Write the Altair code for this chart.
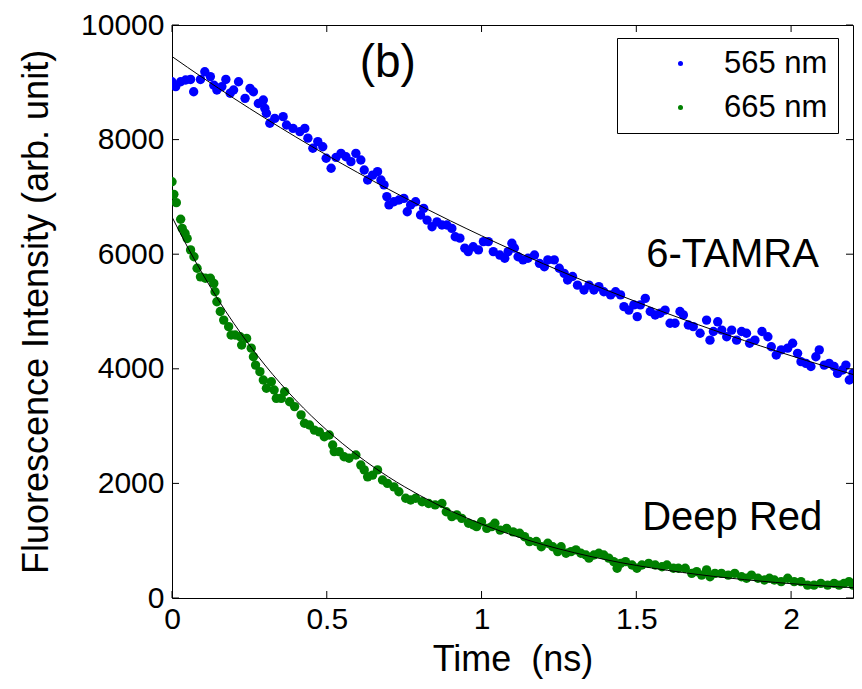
import altair as alt
import pandas as pd

# ---- data ----
blue_t = [0.000, 0.012, 0.028, 0.044, 0.060, 0.070, 0.092, 0.106, 0.124, 0.135,
          0.145, 0.161, 0.174, 0.188, 0.199, 0.215, 0.236, 0.252, 0.263, 0.279,
          0.295, 0.300, 0.305, 0.316, 0.332, 0.359, 0.370, 0.391, 0.413, 0.429,
          0.439, 0.455, 0.471, 0.487, 0.498, 0.514, 0.530, 0.546, 0.562, 0.578,
          0.594, 0.610, 0.621, 0.632, 0.648, 0.664, 0.675, 0.685, 0.694, 0.701,
          0.717, 0.733, 0.749, 0.760, 0.771, 0.787, 0.803, 0.813, 0.824, 0.840,
          0.856, 0.872, 0.888, 0.904, 0.915, 0.930, 0.946, 0.957, 0.973, 0.990,
          1.006, 1.022, 1.038, 1.059, 1.075, 1.086, 1.098, 1.106, 1.118, 1.134,
          1.150, 1.171, 1.187, 1.203, 1.214, 1.235, 1.251, 1.267, 1.278, 1.294,
          1.310, 1.331, 1.347, 1.363, 1.379, 1.395, 1.417, 1.433, 1.449, 1.460,
          1.476, 1.492, 1.503, 1.513, 1.529, 1.545, 1.561, 1.577, 1.593, 1.609,
          1.625, 1.641, 1.652, 1.668, 1.684, 1.706, 1.727, 1.738, 1.749, 1.763,
          1.776, 1.792, 1.808, 1.824, 1.840, 1.856, 1.866, 1.883, 1.906, 1.925,
          1.936, 1.952, 1.968, 1.989, 2.005, 2.021, 2.032, 2.048, 2.064, 2.080,
          2.091, 2.107, 2.123, 2.139, 2.150, 2.166, 2.177, 2.188, 2.200]
blue_v = [9010, 8925, 9010, 9040, 9050, 8835, 9050, 9185, 9100, 8950,
          8865, 8925, 9050, 8810, 8865, 9010, 8720, 8895, 8835, 8630,
          8690, 8545, 8460, 8285, 8370, 8400, 8255, 8195, 8140, 8195,
          8025, 7850, 7965, 7875, 7675, 7500, 7690, 7760, 7700, 7615,
          7760, 7645, 7470, 7295, 7380, 7440, 7295, 7210, 7005, 6860,
          6915, 6945, 6975, 6740, 6860, 6915, 6685, 6800, 6595, 6480,
          6565, 6510, 6510, 6450, 6305, 6280, 6105, 6045, 6130, 6075,
          6220, 6220, 6045, 5985, 5930, 6045, 6190, 6105, 5955, 5900,
          5930, 5985, 5840, 5780, 5900, 5900, 5755, 5665, 5550, 5610,
          5460, 5375, 5460, 5375, 5435, 5345, 5290, 5345, 5290, 5085,
          5025, 5115, 4910, 5115, 5230, 5000, 4940, 4970, 5025, 4795,
          4795, 5000, 4940, 4765, 4735, 4620, 4850, 4500, 4650, 4820,
          4675, 4560, 4675, 4500, 4650, 4620, 4445, 4500, 4650, 4560,
          4385, 4240, 4330, 4360, 4445, 4270, 4125, 4095, 4040, 4210,
          4330, 4065, 4095, 4040, 3920, 3980, 4065, 3805, 3920]

green_t = [0.000, 0.006, 0.014, 0.028, 0.033, 0.042, 0.049, 0.060, 0.071, 0.081,
           0.092, 0.108, 0.124, 0.135, 0.139, 0.145, 0.156, 0.167, 0.183, 0.191,
           0.204, 0.220, 0.225, 0.241, 0.256, 0.263, 0.270, 0.284, 0.295, 0.305,
           0.321, 0.330, 0.337, 0.353, 0.364, 0.380, 0.396, 0.417, 0.428, 0.444,
           0.460, 0.476, 0.492, 0.508, 0.519, 0.524, 0.540, 0.556, 0.572, 0.594,
           0.610, 0.621, 0.632, 0.648, 0.664, 0.680, 0.696, 0.717, 0.733, 0.755,
           0.771, 0.787, 0.808, 0.829, 0.850, 0.872, 0.886, 0.904, 0.920, 0.936,
           0.958, 0.974, 0.984, 1.000, 1.017, 1.033, 1.043, 1.060, 1.081, 1.102,
           1.123, 1.139, 1.155, 1.177, 1.193, 1.214, 1.230, 1.246, 1.257, 1.273,
           1.289, 1.305, 1.321, 1.337, 1.347, 1.363, 1.379, 1.395, 1.411, 1.427,
           1.438, 1.449, 1.465, 1.486, 1.502, 1.518, 1.540, 1.561, 1.583, 1.599,
           1.620, 1.636, 1.658, 1.679, 1.695, 1.711, 1.727, 1.738, 1.754, 1.775,
           1.797, 1.818, 1.840, 1.856, 1.872, 1.893, 1.914, 1.930, 1.946, 1.968,
           1.989, 2.010, 2.032, 2.053, 2.074, 2.096, 2.118, 2.139, 2.155, 2.171,
           2.187, 2.200]
green_v = [7265, 7045, 6900, 6610, 6450, 6365, 6275, 6075, 5955, 5755,
           5605, 5580, 5580, 5490, 5345, 5170, 5000, 4850, 4735, 4590,
           4590, 4560, 4415, 4530, 4360, 4210, 4065, 3950, 3805, 3660,
           3775, 3630, 3485, 3485, 3600, 3425, 3340, 3195, 3050, 3020,
           2930, 2900, 2815, 2845, 2670, 2555, 2555, 2465, 2440, 2495,
           2320, 2235, 2115, 2145, 2235, 2060, 2000, 1940, 1855, 1740,
           1710, 1740, 1680, 1650, 1625, 1650, 1505, 1420, 1450, 1390,
           1305, 1275, 1245, 1330, 1215, 1245, 1305, 1185, 1215, 1155,
           1130, 1070, 985, 985, 895, 955, 895, 810, 895, 780,
           810, 840, 780, 750, 695, 750, 780, 750, 695, 635,
           520, 605, 635, 575, 520, 575, 605, 575, 545, 575,
           520, 520, 520, 430, 460, 400, 490, 370, 430, 430,
           400, 430, 370, 345, 400, 345, 315, 345, 315, 285,
           345, 285, 285, 225, 225, 255, 225, 255, 225, 255,
           285, 225]

fit_t = [0.00, 0.05, 0.10, 0.15, 0.20, 0.25, 0.30, 0.35, 0.40, 0.45,
         0.50, 0.55, 0.60, 0.65, 0.70, 0.75, 0.80, 0.85, 0.90, 0.95,
         1.00, 1.05, 1.10, 1.15, 1.20, 1.25, 1.30, 1.35, 1.40, 1.45,
         1.50, 1.55, 1.60, 1.65, 1.70, 1.75, 1.80, 1.85, 1.90, 1.95,
         2.00, 2.05, 2.10, 2.15, 2.20]
blue_fit = [9450, 9262, 9077, 8897, 8720, 8546, 8376, 8210, 8046, 7886,
            7729, 7576, 7425, 7277, 7132, 6990, 6851, 6715, 6581, 6450,
            6322, 6196, 6073, 5952, 5833, 5717, 5603, 5492, 5382, 5275,
            5170, 5067, 4966, 4867, 4770, 4675, 4582, 4491, 4401, 4314,
            4228, 4144, 4061, 3980, 3901]
green_fit = [6650, 6127, 5645, 5200, 4791, 4414, 4067, 3747, 3452, 3180,
             2930, 2699, 2487, 2291, 2111, 1945, 1792, 1651, 1521, 1401,
             1291, 1189, 1096, 1010, 930, 857, 790, 727, 670, 617,
             569, 524, 483, 445, 410, 377, 348, 320, 295, 272,
             250, 231, 212, 196, 180]

series_names = ["565 nm", "665 nm"]
series_colors = ["#0000ff", "#008000"]
x_ticks = [0, 0.5, 1, 1.5, 2]
y_ticks = [0, 2000, 4000, 6000, 8000, 10000]
panel_text = ["(b)"]
panel_t = [0.697]
panel_v = [9092]
dye_text = ["6-TAMRA", "Deep Red"]
dye_t = [1.532, 1.519]
dye_v = [5777, 1187]

# ---- tables ----
pts = pd.DataFrame({
    "t": blue_t + green_t,
    "v": blue_v + green_v,
    "series": [series_names[0]] * len(blue_t) + [series_names[1]] * len(green_t),
})
fit = pd.DataFrame({
    "t": fit_t + fit_t,
    "v": blue_fit + green_fit,
    "series": [series_names[0]] * len(fit_t) + [series_names[1]] * len(fit_t),
})
xt = pd.DataFrame({"t": x_ticks})
yt = pd.DataFrame({"v": y_ticks})
panel = pd.DataFrame({"t": panel_t, "v": panel_v, "text": panel_text})
dyes = pd.DataFrame({"t": dye_t, "v": dye_v, "text": dye_text})

W, H = 681, 573
FONT = "Liberation Sans"
xs = alt.Scale(domain=[0, 2.2], nice=False, zero=False)
ys = alt.Scale(domain=[0, 10000], nice=False)

x_axis = alt.Axis(values=x_ticks, title="Time \u00a0(ns)", labelFlush=False,
                  labelPadding=6, titlePadding=8, format="~g")
y_axis = alt.Axis(values=y_ticks, title="Fluorescence Intensity (arb. unit)",
                  labelPadding=8, titlePadding=25, format="d")
X = alt.X("t:Q", scale=xs, axis=x_axis)
Y = alt.Y("v:Q", scale=ys, axis=y_axis)

points = alt.Chart(pts).mark_circle(size=88, opacity=1, clip=True).encode(
    x=X, y=Y,
    color=alt.Color("series:N", scale=alt.Scale(domain=series_names, range=series_colors),
                    legend=alt.Legend(
                        title=None, orient="none", legendX=445, legendY=13,
                        strokeColor="black", fillColor="white", padding=10,
                        rowPadding=12, symbolSize=25, symbolType="circle",
                        symbolOffset=38, labelOffset=28, labelFontSize=31,
                        labelFont=FONT, labelColor="black", symbolStrokeWidth=0)),
)

lines = alt.Chart(fit).mark_line(color="black", strokeWidth=1, interpolate="monotone", clip=True).encode(
    x=X, y=Y, detail="series:N",
)

tick_bottom = alt.Chart(xt).mark_rule(color="black", strokeWidth=1).encode(
    x=X, y=alt.value(H), y2=alt.value(H - 7))
tick_top = alt.Chart(xt).mark_rule(color="black", strokeWidth=1).encode(
    x=X, y=alt.value(0), y2=alt.value(7))
tick_left = alt.Chart(yt).mark_rule(color="black", strokeWidth=1).encode(
    y=Y, x=alt.value(0), x2=alt.value(7))
tick_right = alt.Chart(yt).mark_rule(color="black", strokeWidth=1).encode(
    y=Y, x=alt.value(W), x2=alt.value(W - 7))

panel_label = alt.Chart(panel).mark_text(
    font=FONT, fontSize=46, align="center", baseline="alphabetic", color="black").encode(
    x=X, y=Y, text="text:N")
dye_labels = alt.Chart(dyes).mark_text(
    font=FONT, fontSize=40, align="left", baseline="alphabetic", color="black").encode(
    x=X, y=Y, text="text:N")

chart = alt.layer(
    points, lines, tick_bottom, tick_top, tick_left, tick_right, panel_label, dye_labels
).properties(
    width=W, height=H,
    autosize=alt.AutoSizeParams(type="none"),
    padding={"left": 164, "top": 17, "right": 1, "bottom": 83},
    background="white",
).configure_view(
    stroke="black", strokeWidth=1
).configure_axis(
    grid=False, ticks=False, tickSize=0, domain=False,
    labelFont=FONT, labelFontSize=30, labelColor="black",
    titleFont=FONT, titleFontSize=36, titleFontWeight="normal", titleColor="black",
)

chart.save("out.html", embed_options={"renderer": "svg", "actions": False})
